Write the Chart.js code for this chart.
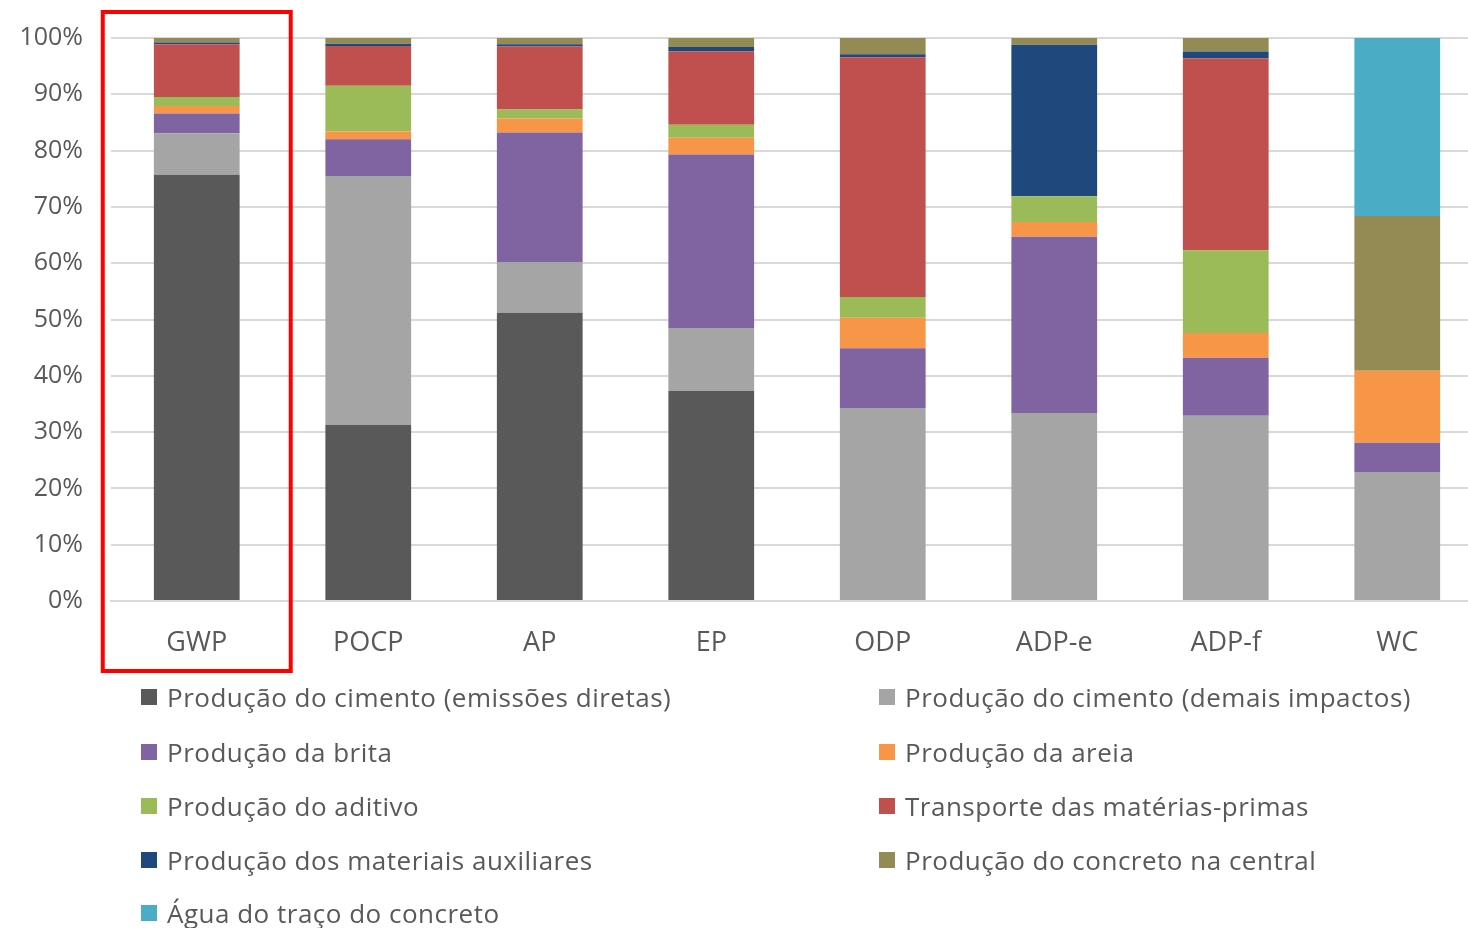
<!DOCTYPE html>
<html>
<head>
<meta charset="utf-8">
<script src="https://cdn.jsdelivr.net/npm/chart.js@4.4.1/dist/chart.umd.min.js"></script>
<style>
  html, body { margin: 0; padding: 0; background: #ffffff; overflow: hidden; width: 1468px; height: 928px; }
  #wrap { position: absolute; left: 0; top: -5px; width: 1483px; height: 682px; }
  #legend { position: absolute; left: 0; top: 0; width: 1468px; height: 928px; pointer-events: none;
            font-family: "Open Sans", sans-serif; font-size: 26px; letter-spacing: 0.5px; color: #595959; }
  .item { position: absolute; display: flex; align-items: center; height: 36px; white-space: nowrap; }
  .box { width: 16px; height: 16px; margin-right: 10px; flex: none; }
</style>
</head>
<body>
<div id="wrap"><canvas id="c" width="1483" height="682"></canvas></div>
<div id="legend"></div>
<script>
// ---- Data (percent shares per impact category) ----
const categories = ['GWP', 'POCP', 'AP', 'EP', 'ODP', 'ADP-e', 'ADP-f', 'WC'];
const yTicks = [0, 10, 20, 30, 40, 50, 60, 70, 80, 90, 100];

const seriesNames = [
  'Produção do cimento (emissões diretas)',
  'Produção do cimento (demais impactos)',
  'Produção da brita',
  'Produção da areia',
  'Produção do aditivo',
  'Transporte das matérias-primas',
  'Produção dos materiais auxiliares',
  'Produção do concreto na central',
  'Água do traço do concreto'
];

const cimentoDiretas = [75.7, 31.3, 51.2, 37.3, 0, 0, 0, 0];
const cimentoDemais  = [7.4, 44.2, 9.0, 11.2, 34.3, 33.4, 32.9, 22.9];
const brita          = [3.5, 6.5, 23.0, 30.8, 10.6, 31.3, 10.3, 5.2];
const areia          = [1.3, 1.4, 2.5, 3.0, 5.4, 2.6, 4.4, 12.8];
const aditivo        = [1.6, 8.1, 1.6, 2.3, 3.7, 4.6, 14.7, 0];
const transporte     = [9.4, 7.1, 11.2, 13.0, 42.6, 0, 34.1, 0];
const auxiliares     = [0.3, 0.4, 0.4, 0.8, 0.5, 26.9, 1.2, 0];
const central        = [0.8, 1.0, 1.1, 1.6, 2.9, 1.2, 2.4, 27.5];
const agua           = [0, 0, 0, 0, 0, 0, 0, 31.6];

const seriesValues = [cimentoDiretas, cimentoDemais, brita, areia, aditivo, transporte, auxiliares, central, agua];
const seriesColors = ['#595959', '#a5a5a5', '#8064a2', '#f79646', '#9bbb59', '#c0504d', '#1f497d', '#948a54', '#4bacc6'];

// ---- Chart ----
const datasets = seriesNames.map((name, i) => ({
  label: name,
  data: seriesValues[i],
  backgroundColor: seriesColors[i],
  borderWidth: 0,
  categoryPercentage: 1.0,
  barPercentage: 0.5
}));

const highlight = {
  id: 'highlight',
  afterDraw(chart) {
    const x = chart.scales.x;
    const ca = chart.chartArea;
    const cw = x.getPixelForValue(1) - x.getPixelForValue(0);
    const cx = x.getPixelForValue(0);
    const ctx = chart.ctx;
    ctx.save();
    ctx.strokeStyle = '#ff0000';
    ctx.lineWidth = 4;
    ctx.strokeRect(cx - 0.548 * cw, ca.top - 26, 1.096 * cw, (ca.bottom + 70) - (ca.top - 26));
    ctx.restore();
  }
};

new Chart(document.getElementById('c'), {
  type: 'bar',
  data: { labels: categories, datasets },
  options: {
    responsive: false,
    animation: false,
    devicePixelRatio: 1,
    layout: { padding: { top: 29, right: 0, bottom: 0, left: 0 } },
    plugins: { legend: { display: false }, tooltip: { enabled: false } },
    scales: {
      x: {
        stacked: true,
        grid: { display: false, drawTicks: false },
        border: { display: true, color: '#d9d9d9', width: 2 },
        ticks: { color: '#595959', font: { family: 'Open Sans', size: 27 }, padding: 26 },
        afterFit(s) { s.height = 76; }
      },
      y: {
        stacked: true,
        min: 0, max: 100,
        afterBuildTicks(s) { s.ticks = yTicks.map(v => ({ value: v })); },
        grid: { color: '#d9d9d9', lineWidth: 2, drawTicks: false },
        border: { display: false },
        ticks: { color: '#595959', font: { family: 'Open Sans', size: 25 }, padding: 28,
                 callback: v => v + '%' },
        afterFit(s) { s.width = 111; }
      }
    }
  },
  plugins: [highlight]
});

// ---- Legend (two columns, row-major order) ----
const legend = document.getElementById('legend');
const colX = [141, 879];
const rowY = [697, 752, 806, 860, 913];
seriesNames.forEach((name, i) => {
  const el = document.createElement('div');
  el.className = 'item';
  el.style.left = colX[i % 2] + 'px';
  el.style.top = (rowY[Math.floor(i / 2)] - 18) + 'px';
  const b = document.createElement('span');
  b.className = 'box';
  b.style.background = seriesColors[i];
  const t = document.createElement('span');
  t.textContent = name;
  el.appendChild(b);
  el.appendChild(t);
  legend.appendChild(el);
});
</script>
</body>
</html>
